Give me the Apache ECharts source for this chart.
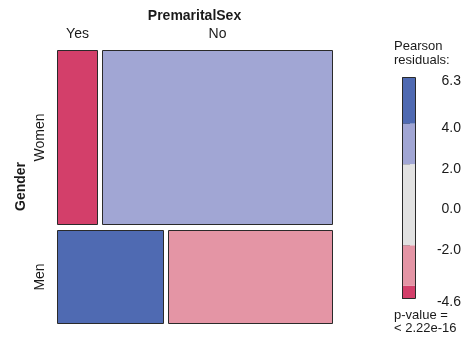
<!DOCTYPE html>
<html>
<head>
<meta charset="utf-8">
<script src="https://cdn.jsdelivr.net/npm/echarts@6/dist/echarts.min.js"></script>
<style>
  html, body { margin: 0; padding: 0; background: #fff; }
  #chart { width: 465px; height: 338px; }
</style>
</head>
<body>
<div id="chart"></div>
<script>
// Gender x PremaritalSex contingency table
const genderLevels = ['Women', 'Men'];
const premaritalLevels = ['Yes', 'No'];
const countsWomen = [100, 576];
const countsMen = [141, 219];

// Residual shading: band limits and fills
const residualBreaks = [-4.6, -4, -2, 2, 4, 6.3];
const shadeColors = ['#D33F6A', '#E495A5', '#E2E2E2', '#A1A6D4', '#4F6AB2'];
const legendTicks = [6.3, 4, 2, 0, -2, -4, -4.6];
const legendLabels = [6.3, 4.0, 2.0, 0.0, -2.0, -4.6];
const pValueText = '< 2.22e-16';

const FONT = '"Liberation Sans", Arial, Helvetica, sans-serif';
const TEXT = '#1a1a1a';

// spacing between tiles, in axis units (0..1)
const colGap = 0.0182;
const rowGap = 0.0235;

const table = [countsWomen, countsMen];
const rowSums = table.map(r => r.reduce((a, b) => a + b, 0));
const colSums = premaritalLevels.map((_, j) => table.reduce((a, r) => a + r[j], 0));
const total = rowSums.reduce((a, b) => a + b, 0);

function shadeFor(r) {
  for (let i = 0; i < shadeColors.length; i++) {
    if (r <= residualBreaks[i + 1]) return shadeColors[i];
  }
  return shadeColors[shadeColors.length - 1];
}

// tiles: [x0, x1, y0, y1, residual, row, col]
const tiles = [];
let yCur = 0;
table.forEach((row, i) => {
  const h = (1 - rowGap * (table.length - 1)) * rowSums[i] / total;
  let xCur = 0;
  row.forEach((n, j) => {
    const w = (1 - colGap * (row.length - 1)) * n / rowSums[i];
    const e = rowSums[i] * colSums[j] / total;
    const res = (n - e) / Math.sqrt(e);
    tiles.push([xCur, xCur + w, yCur, yCur + h, res, i, j]);
    xCur += w + colGap;
  });
  yCur += h + rowGap;
});

const bands = [];
for (let i = 0; i < shadeColors.length; i++) {
  bands.push([residualBreaks[i], residualBreaks[i + 1], i]);
}

const chart = echarts.init(document.getElementById('chart'), null, { renderer: 'canvas' });

const option = {
  animation: false,
  backgroundColor: '#fff',
  textStyle: { fontFamily: FONT },
  grid: [
    { left: 57, top: 50, width: 275, height: 273 },
    { left: 402, top: 77, width: 13, height: 221 }
  ],
  xAxis: [
    {
      gridIndex: 0, type: 'value', min: 0, max: 1, position: 'top',
      name: 'PremaritalSex', nameLocation: 'middle', nameGap: 27,
      nameTextStyle: { fontFamily: FONT, fontSize: 14, fontWeight: 'bold', color: TEXT },
      axisLine: { show: false }, axisTick: { show: false },
      axisLabel: { show: false }, splitLine: { show: false }
    },
    {
      gridIndex: 1, type: 'value', min: 0, max: 1, show: false
    }
  ],
  yAxis: [
    {
      gridIndex: 0, type: 'value', min: 0, max: 1, inverse: true,
      name: 'Gender', nameLocation: 'middle', nameGap: 29,
      nameTextStyle: { fontFamily: FONT, fontSize: 14, fontWeight: 'bold', color: TEXT },
      axisLine: { show: false }, axisTick: { show: false },
      axisLabel: { show: false }, splitLine: { show: false }
    },
    {
      gridIndex: 1, type: 'value', min: -4.6, max: 6.3, position: 'right',
      axisLine: { show: false },
      axisTick: { show: true, length: 8, customValues: legendTicks,
        lineStyle: { color: '#444', width: 1 } },
      axisLabel: {
        show: true, customValues: legendLabels, align: 'right', margin: 46,
        fontFamily: FONT, fontSize: 14, color: TEXT,
        verticalAlign: 'top', lineHeight: 9,
        formatter: v => Number(v).toFixed(1)
      },
      splitLine: { show: false }
    }
  ],
  series: [
    {
      type: 'custom',
      xAxisIndex: 0, yAxisIndex: 0,
      data: tiles,
      clip: false,
      renderItem: function (params, api) {
        const a = api.coord([api.value(0), api.value(2)]);
        const b = api.coord([api.value(1), api.value(3)]);
        const row = api.value(5), col = api.value(6);
        const x = Math.round(Math.min(a[0], b[0])) + 0.5;
        const y = Math.round(Math.min(a[1], b[1])) + 0.5;
        const w = Math.round(Math.abs(b[0] - a[0]));
        const h = Math.round(Math.abs(b[1] - a[1]));
        const children = [{
          type: 'rect',
          shape: { x: x, y: y, width: w, height: h },
          style: { fill: shadeFor(api.value(4)), stroke: '#2a2a2a', lineWidth: 1 }
        }];
        if (row === 0) {
          children.push({
            type: 'text',
            style: {
              text: premaritalLevels[col], x: x + w / 2, y: y - 16,
              align: 'center', verticalAlign: 'middle',
              font: '14px ' + FONT, fill: TEXT
            }
          });
        }
        if (col === 0) {
          children.push({
            type: 'text', x: x - 17, y: y + h / 2, rotation: Math.PI / 2,
            style: {
              text: genderLevels[row], x: 0, y: 0,
              align: 'center', verticalAlign: 'middle',
              font: '14px ' + FONT, fill: TEXT
            }
          });
        }
        return { type: 'group', children: children };
      }
    },
    {
      type: 'custom',
      xAxisIndex: 1, yAxisIndex: 1,
      data: bands,
      clip: false,
      renderItem: function (params, api) {
        const lo = api.coord([0, api.value(0)]);
        const hi = api.coord([1, api.value(1)]);
        return {
          type: 'rect',
          shape: { x: lo[0], y: hi[1], width: hi[0] - lo[0], height: lo[1] - hi[1] },
          style: { fill: shadeColors[api.value(2)], stroke: null }
        };
      }
    },
    {
      // outline around the colour key
      type: 'custom',
      xAxisIndex: 1, yAxisIndex: 1,
      data: [[residualBreaks[0], residualBreaks[residualBreaks.length - 1]]],
      clip: false,
      z: 3,
      renderItem: function (params, api) {
        const lo = api.coord([0, api.value(0)]);
        const hi = api.coord([1, api.value(1)]);
        return {
          type: 'rect',
          shape: {
            x: Math.round(lo[0]) + 0.5, y: Math.round(hi[1]) + 0.5,
            width: Math.round(hi[0] - lo[0]), height: Math.round(lo[1] - hi[1])
          },
          style: { fill: null, stroke: '#2a2a2a', lineWidth: 1 }
        };
      }
    }
  ],
  graphic: [
    { type: 'text', left: 394, top: 40, style: { text: 'Pearson', font: '13px ' + FONT, fill: TEXT } },
    { type: 'text', left: 394, top: 54, style: { text: 'residuals:', font: '13px ' + FONT, fill: TEXT } },
    { type: 'text', left: 394, top: 309, style: { text: 'p-value =', font: '13px ' + FONT, fill: TEXT } },
    { type: 'text', left: 394, top: 322, style: { text: pValueText, font: '13px ' + FONT, fill: TEXT } }
  ]
};

chart.setOption(option);
</script>
</body>
</html>
